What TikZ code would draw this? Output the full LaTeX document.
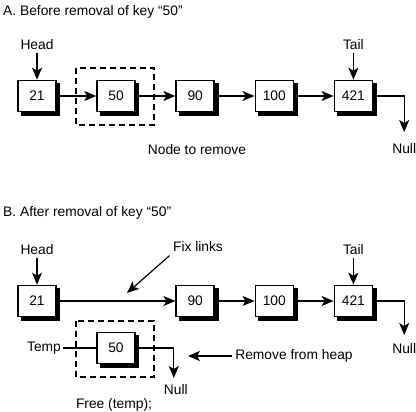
\documentclass[tikz,border=0pt]{standalone}
\usepackage{fontspec}
\setmainfont{Liberation Sans}
\usepackage{tikz}
\usetikzlibrary{arrows.meta}
\usetikzlibrary{calc}
\usetikzlibrary{positioning}

\tikzset{
	keybox/.style={draw,line width=1.6pt,fill=white,minimum width=38pt,minimum height=31pt,inner sep=0pt},
	link/.style={line width=1.2pt,-{Stealth[length=12pt,width=10pt,inset=3pt]}},
	bare/.style={line width=1.2pt},
	dashbox/.style={line width=1.3pt,dash pattern=on 6pt off 4pt},
	lbl/.style={inner sep=2pt}
}

\begin{document}
\begin{tikzpicture}[x=1pt,y=-1pt,font=\fontsize{13.8}{16}\selectfont]
	\useasboundingbox (0,0) rectangle (416,412);

	% A: before removal
	\node[anchor=west,inner sep=0pt] (titleA) at (3,12) {A. Before removal of key “50”};
	\node[keybox] (a21) at (37,96) {21};
	\node[keybox,right=39.5pt of a21] (a50) {50};
	\node[keybox,right=39.5pt of a50] (a90) {90};
	\node[keybox,right=39.5pt of a90] (a100) {100};
	\node[keybox,right=39.5pt of a100] (a421) {421};
	\draw[dashbox] (76,68) rectangle (154,125);

	\node[above=27pt of a21] (headA) {Head};
	\node[above=27pt of a421] (tailA) {Tail};
	\draw[link] (headA) -- (a21);
	\draw[link] (tailA) -- (a421);

	\draw[link] (a21) -- (a50);
	\draw[link] (a50) -- (a90);
	\draw[link] (a90) -- (a100);
	\draw[link] (a100) -- (a421);

	\coordinate (aturn) at ($(a421.east)+(31,0)$);
	\coordinate (aend) at ($(aturn)+(0,36)$);
	\draw[link] (a421.east) -- (aturn) -- (aend);
	\node[below=8pt of aend] (nullA) {Null};
	\node (remA) at (197,150) {Node to remove};

	% B: after removal
	\node[anchor=west,inner sep=0pt] (titleB) at (3,213) {B. After removal of key “50”};
	\node[keybox] (b21) at (37,301) {21};
	\node[keybox] (b90) at (a90 |- b21) {90};
	\node[keybox,right=39.5pt of b90] (b100) {100};
	\node[keybox,right=39.5pt of b100] (b421) {421};
	\node[keybox] (b50) at (116,348) {50};
	\draw[dashbox] (76,321) rectangle (154,377);

	\node[above=27pt of b21] (headB) {Head};
	\node[above=27pt of b421] (tailB) {Tail};
	\draw[link] (headB) -- (b21);
	\draw[link] (tailB) -- (b421);

	\draw[link] (b21) -- (b90);
	\draw[link] (b90) -- (b100);
	\draw[link] (b100) -- (b421);

	\coordinate (bturn) at ($(b421.east)+(31,0)$);
	\coordinate (bend) at ($(bturn)+(0,34)$);
	\draw[link] (b421.east) -- (bturn) -- (bend);
	\node[below=5pt of bend] (nullB) {Null};

	\node (fix) at (198,247) {Fix links};
	\coordinate (fixtip) at (127,293);
	\draw[link] (fix.south west) -- (fixtip);

	\node[lbl] (temp) at (44,348) {Temp};
	\draw[bare] (temp) -- (b50);
	\coordinate (tturn) at ($(b50.east)+(38,0)$);
	\coordinate (tend) at ($(tturn)+(0,30)$);
	\draw[link] (b50.east) -- (tturn) -- (tend);
	\node[below=3pt of tend,xshift=2pt] (nullT) {Null};
	\node (free) at (114,405) {Free (temp);};

	\node (heap) at (294,356) {Remove from heap};
	\coordinate (heaptip) at (188,356);
	\draw[link] (heap) -- (heaptip);

	% shadows of the boxes
	\foreach \bx in {a21,a50,a90,a100,a421,b21,b90,b100,b421,b50}{
		\fill[black] ([yshift=-3.5pt]\bx.north east) rectangle ([xshift=3.5pt]\bx.south east);
		\fill[black] ([xshift=3.5pt]\bx.south west) rectangle ([xshift=3.5pt,yshift=-3.5pt]\bx.south east);
	}
\end{tikzpicture}
\end{document}
